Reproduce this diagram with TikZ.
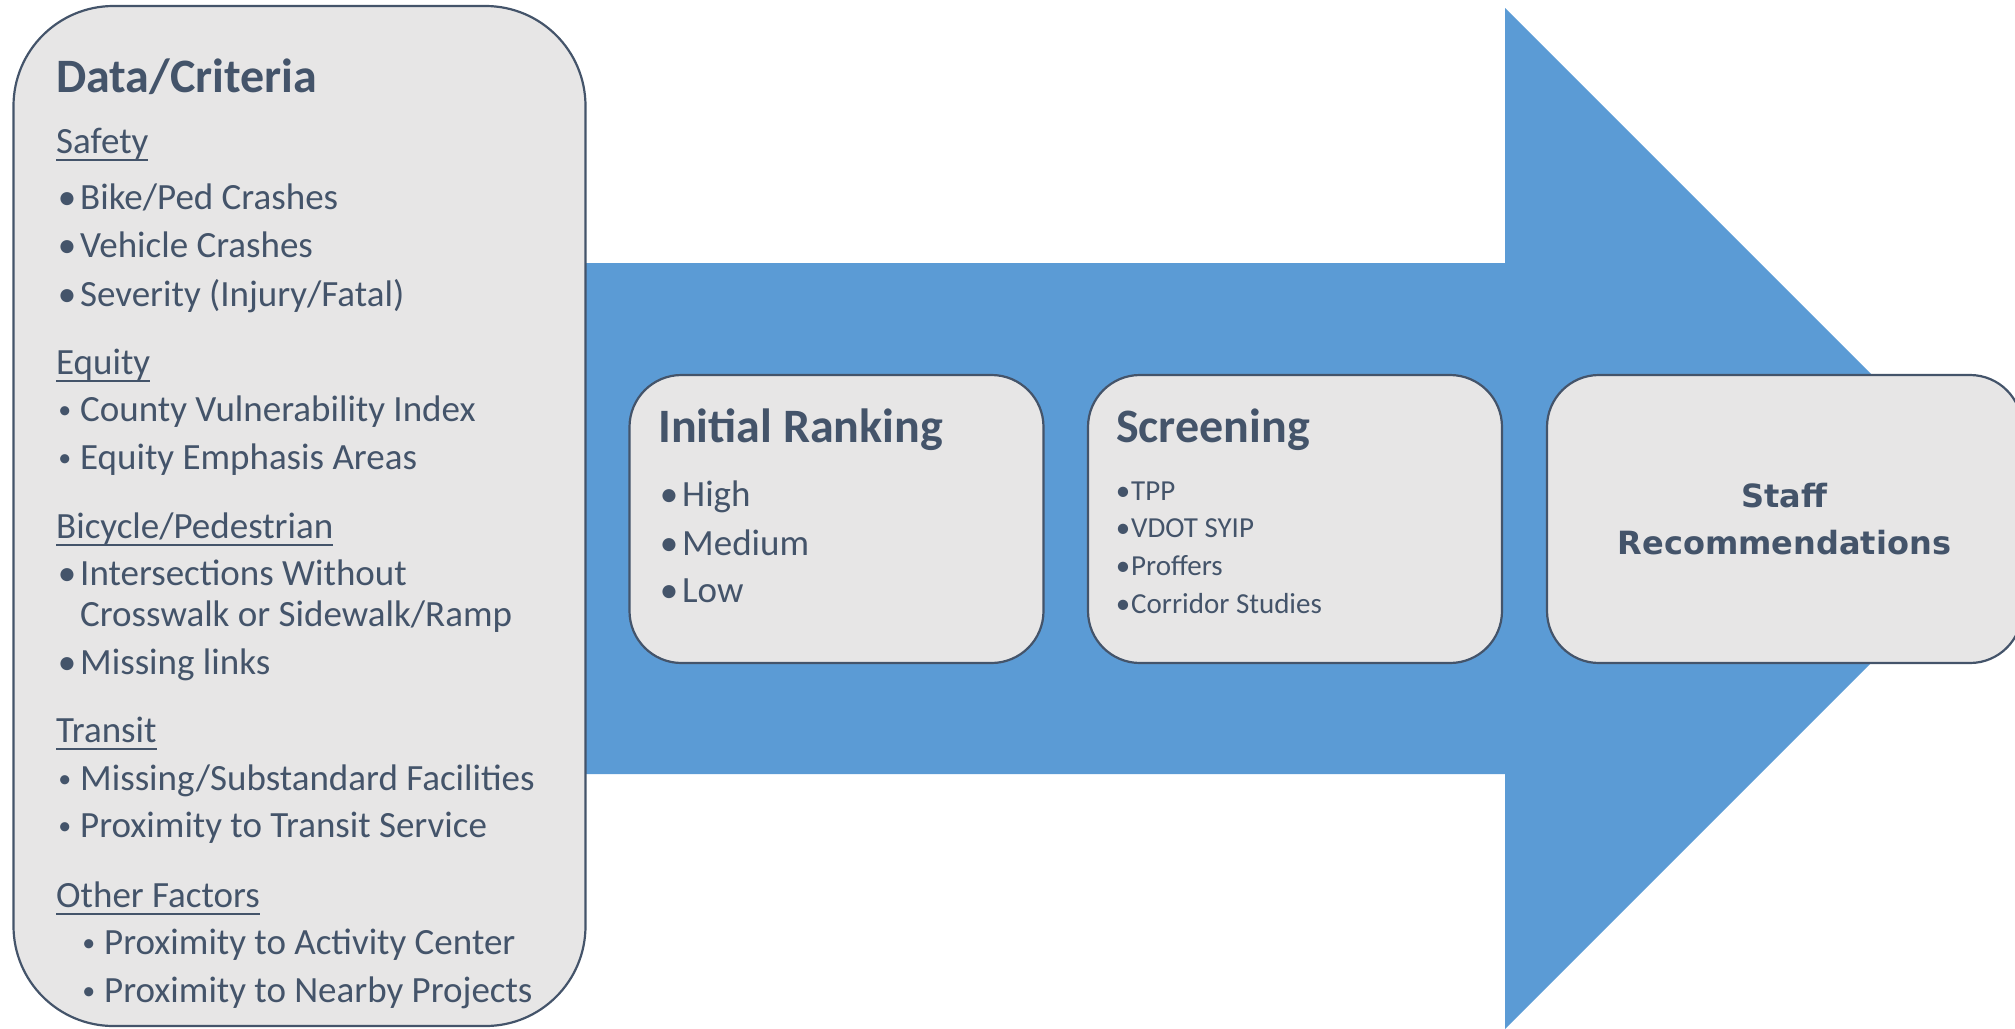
\documentclass[tikz,border=0pt]{standalone}
\usepackage{fontspec}
\setmainfont{Carlito}
\newfontfamily\widefont{DejaVu Sans}
\usetikzlibrary{positioning}
\definecolor{slate}{HTML}{44546A}
\definecolor{panelgray}{HTML}{E7E6E6}
\definecolor{arrowblue}{HTML}{5B9BD5}
\newcommand\itm{\llap{\textbullet\hspace{4pt}}}
\newcommand\sitm{\llap{\raisebox{3pt}{\scalebox{0.7}{\textbullet}}\hspace{9pt}}}
\newcommand\titm{\llap{\textbullet\hspace{1pt}}}
\newcommand\ul[1]{\setbox0\hbox{#1}\vtop{\copy0\kern-\dp0\kern5.5pt\hrule height 2.3pt}}
\tikzset{
  panel/.style={draw=slate,line width=2.2pt,fill=panelgray,rounded corners=52pt,minimum height=288pt},
  hd/.style={anchor=base west,inner sep=0pt,text=slate,font=\fontsize{48}{56}\selectfont\bfseries},
  txt/.style={anchor=base west,inner sep=0pt,text=slate,font=\fontsize{37}{44}\selectfont},
  sm/.style={anchor=base west,inner sep=0pt,text=slate,font=\fontsize{29}{35}\selectfont},
}
\begin{document}
\begin{tikzpicture}[x=1pt,y=-1pt]
\useasboundingbox (0,0) rectangle (2015,1028);
% big arrow
\fill[arrowblue] (550,263) -- (1505,263) -- (1505,8) -- (2015.5,518.5) -- (1505,1029) -- (1505,774) -- (550,774) -- cycle;
% criteria panel
\node[panel,rounded corners=100pt,minimum width=572pt,minimum height=1020pt] (critbox) at (299.5,516) {};
\node[hd] (dc) at (56,92) {Data/Criteria};
\node[txt] (saf) at (56,153) {\ul{Safety}};
\node[txt] (saf1) at (80,209.5) {\itm Bike/Ped Crashes};
\node[txt] (saf2) at (80,257) {\itm Vehicle Crashes};
\node[txt] (saf3) at (80,306) {\itm Severity (Injury/Fatal)};
\node[txt] (equ) at (56,374) {\ul{Equity}};
\node[txt] (equ1) at (80,421.5) {\sitm County Vulnerability Index};
\node[txt] (equ2) at (80,469) {\sitm Equity Emphasis Areas};
\node[txt] (bp) at (56,538) {\ul{Bicycle/Pedestrian}};
\node[txt] (bp1) at (80,585) {\itm Intersections Without};
\node[txt] (bp1b) at (80,626.5) {Crosswalk or Sidewalk/Ramp};
\node[txt] (bp2) at (80,674) {\itm Missing links};
\node[txt] (tr) at (56,742) {\ul{Transit}};
\node[txt] (tr1) at (80,790) {\sitm Missing/Substandard Facilities};
\node[txt] (tr2) at (80,837.5) {\sitm Proximity to Transit Service};
\node[txt] (of) at (56,907) {\ul{Other Factors}};
\node[txt] (of1) at (104,954) {\sitm Proximity to Activity Center};
\node[txt] (of2) at (104,1002) {\sitm Proximity to Nearby Projects};
% process boxes
\node[panel,minimum width=414pt] (rank) at (836.5,519) {};
\node[hd] (rankt) at (658,442) {Initial Ranking};
\node[txt] (rank1) at (682,506.5) {\itm High};
\node[txt] (rank2) at (682,555) {\itm Medium};
\node[txt] (rank3) at (682,602.5) {\itm Low};
\node[panel,minimum width=414pt] (screen) at (1295,519) {};
\node[hd] (screent) at (1116,442) {Screening};
\node[sm] (scr1) at (1131,500) {\titm TPP};
\node[sm] (scr2) at (1131,537.5) {\titm VDOT SYIP};
\node[sm] (scr3) at (1131,575) {\titm Proffers};
\node[sm] (scr4) at (1131,613) {\titm Corridor Studies};
\node[panel,minimum width=475pt,align=center,text=slate,font=\widefont\bfseries\fontsize{32}{47}\selectfont] (staff) at (1784.5,519) {Staff\\Recommendations};
\end{tikzpicture}
\end{document}
